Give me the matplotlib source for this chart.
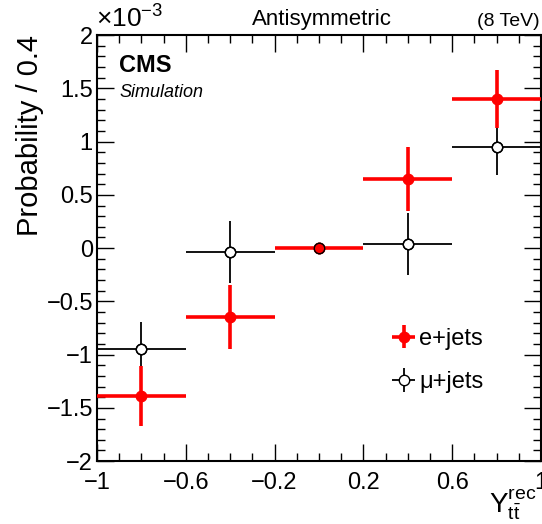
import numpy as np
import matplotlib
matplotlib.use("Agg")
import matplotlib.pyplot as plt
from matplotlib.ticker import MultipleLocator, FuncFormatter

plt.rcParams["font.family"] = ["Liberation Sans", "DejaVu Sans"]
plt.rcParams["mathtext.fontset"] = "custom"
plt.rcParams["mathtext.rm"] = "Liberation Sans"
plt.rcParams["mathtext.it"] = "Liberation Sans:italic"

# bin centres / half widths
bin_centres = [-0.8, -0.4, 0.0, 0.4, 0.8]
bin_halfwidth = [0.2, 0.2, 0.2, 0.2, 0.2]

# values in units of 1e-3
e_vals = [-1.39, -0.65, 0.0, 0.65, 1.40]
e_errs = [0.28, 0.30, 0.0, 0.30, 0.27]
mu_vals = [-0.95, -0.035, 0.0, 0.04, 0.95]
mu_errs = [0.26, 0.29, 0.0, 0.29, 0.26]

fig = plt.figure(figsize=(5.42, 5.24), dpi=100)
ax = fig.add_axes([0.179, 0.120, 0.819, 0.813])

mu = ax.errorbar(bin_centres, mu_vals, xerr=bin_halfwidth, yerr=mu_errs, fmt="o",
                 color="black", mfc="white", mec="black", ms=7.5, mew=1.0,
                 elinewidth=1.3, capsize=0, label="\u03bc+jets", zorder=2)
el = ax.errorbar(bin_centres, e_vals, xerr=bin_halfwidth, yerr=e_errs, fmt="o",
                 color="red", mfc="red", mec="red", ms=7.5, mew=1.0,
                 elinewidth=2.6, capsize=0, label="e+jets", zorder=3)
# open-circle outline drawn on top (visible at the overlapping centre bin)
ax.plot(bin_centres, mu_vals, "o", mfc="none", mec="black", ms=7.5, mew=1.0, zorder=4)

ax.set_xlim(-1, 1)
ax.set_ylim(-2, 2)
ax.xaxis.set_minor_locator(MultipleLocator(0.1))
ax.yaxis.set_major_locator(MultipleLocator(0.5))
ax.yaxis.set_minor_locator(MultipleLocator(0.1))


def fmt(v, pos):
    s = f"{round(v, 2):g}"
    if s == "-0":
        s = "0"
    return s.replace("-", "\u2212")


ax.set_xticks([-1, -0.6, -0.2, 0.2, 0.6, 1.0])
ax.xaxis.set_major_formatter(FuncFormatter(fmt))
ax.yaxis.set_major_formatter(FuncFormatter(fmt))

ax.tick_params(which="both", direction="in", top=True, right=True, labelsize=17,
               width=1.0)
ax.tick_params(axis="x", pad=8)
ax.tick_params(axis="y", pad=3)
ax.tick_params(which="major", length=12)
ax.tick_params(which="minor", length=6)
for s in ax.spines.values():
    s.set_linewidth(1.5)

ax.set_ylabel("Probability / 0.4", fontsize=21, loc="top", labelpad=2)

fig.text(0.177, 0.938, r"$\times10^{-3}$", fontsize=19, ha="left", va="bottom")
fig.text(0.594, 0.942, "Antisymmetric", fontsize=16, ha="center", va="bottom")
fig.text(0.995, 0.942, "(8 TeV)", fontsize=14, ha="right", va="bottom")
ax.text(0.05, 0.955, "CMS", transform=ax.transAxes, fontsize=17, fontweight="bold",
        ha="left", va="top")
ax.text(0.05, 0.885, "Simulation", transform=ax.transAxes, fontsize=13, style="italic",
        ha="left", va="top")
fig.text(0.902, 0.003, r"$\Upsilon_{\mathrm{t\bar{t}}}^{\mathrm{rec}}$", fontsize=20,
         ha="left", va="bottom", family="DejaVu Serif")

leg = ax.legend(handles=[el, mu], loc="upper left", bbox_to_anchor=(0.648, 0.335),
                frameon=False, fontsize=17, handlelength=0.8, handletextpad=0.25,
                labelspacing=0.9, borderaxespad=0)

fig.savefig("out.png", dpi=100)
